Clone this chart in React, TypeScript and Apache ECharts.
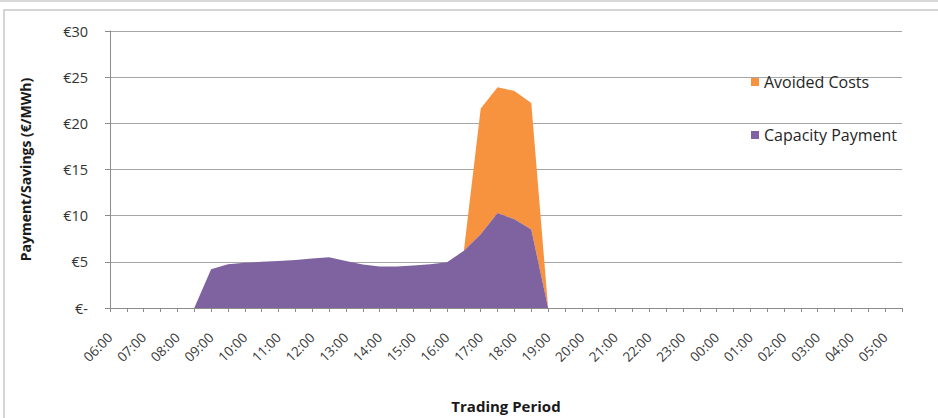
import React, { useEffect, useRef } from "react";
import * as echarts from "echarts";

const categories = [
  "06:00", "06:30", "07:00", "07:30", "08:00", "08:30", "09:00", "09:30",
  "10:00", "10:30", "11:00", "11:30", "12:00", "12:30", "13:00", "13:30",
  "14:00", "14:30", "15:00", "15:30", "16:00", "16:30", "17:00", "17:30",
  "18:00", "18:30", "19:00", "19:30", "20:00", "20:30", "21:00", "21:30",
  "22:00", "22:30", "23:00", "23:30", "00:00", "00:30", "01:00", "01:30",
  "02:00", "02:30", "03:00", "03:30", "04:00", "04:30", "05:00", "05:30",
];

const capacityPayment = [
  0, 0, 0, 0, 0, 0, 4.2, 4.75,
  4.9, 5.0, 5.1, 5.2, 5.35, 5.5, 5.1, 4.7,
  4.5, 4.5, 4.6, 4.75, 4.95, 6.2, 8.0, 10.3,
  9.6, 8.5, 0, 0, 0, 0, 0, 0,
  0, 0, 0, 0, 0, 0, 0, 0,
  0, 0, 0, 0, 0, 0, 0, 0,
];

const avoidedCosts = [
  0, 0, 0, 0, 0, 0, 0, 0,
  0, 0, 0, 0, 0, 0, 0, 0,
  0, 0, 0, 0, 0, 0, 13.6, 13.6,
  13.9, 13.7, 0, 0, 0, 0, 0, 0,
  0, 0, 0, 0, 0, 0, 0, 0,
  0, 0, 0, 0, 0, 0, 0, 0,
];

const yTicks = [0, 5, 10, 15, 20, 25, 30];

const FONT = "'Open Sans', 'Noto Sans', sans-serif";

export default function App() {
  const ref = useRef<HTMLDivElement>(null);

  useEffect(() => {
    if (!ref.current) return;
    const chart = echarts.init(ref.current, null, { renderer: "svg" });
    chart.setOption({
      animation: false,
      backgroundColor: "#ffffff",
      textStyle: { fontFamily: FONT },
      graphic: [
        {
          type: "rect",
          shape: { x: 4, y: 10, width: 960, height: 430 },
          style: { fill: "none", stroke: "#c8c8c8", lineWidth: 1.5 },
          silent: true,
        },
        {
          type: "line",
          shape: { x1: 0, y1: 1, x2: 938, y2: 1 },
          style: { stroke: "#d8d8d8", lineWidth: 2 },
          silent: true,
        },
      ],
      legend: {
        orient: "vertical",
        left: 746,
        top: 68,
        itemGap: 35,
        itemWidth: 8,
        itemHeight: 8,
        icon: "rect",
        data: ["Avoided Costs", "Capacity Payment"],
        textStyle: { fontFamily: FONT, fontSize: 16, color: "#262626", lineHeight: 18 },
      },
      grid: { left: 110, right: 36, top: 31, bottom: 103, containLabel: false },
      xAxis: {
        type: "category",
        data: categories,
        boundaryGap: false,
        name: "Trading Period",
        nameLocation: "middle",
        nameGap: 90,
        nameTextStyle: { fontFamily: FONT, fontSize: 15, fontWeight: "bold", color: "#1a1a1a" },
        axisLine: { lineStyle: { color: "#8c8c8c", width: 1 } },
        axisTick: { show: true, interval: 0, length: 4, lineStyle: { color: "#8c8c8c" } },
        axisLabel: {
          interval: 1,
          rotate: 45,
          margin: 27,
          fontFamily: FONT,
          fontSize: 13.5,
          color: "#3a3a3a",
        },
        splitLine: { show: false },
      },
      yAxis: {
        type: "value",
        min: 0,
        max: 30,
        interval: 5,
        name: "Payment/Savings (€/MWh)",
        nameLocation: "middle",
        nameGap: 78,
        nameTextStyle: { fontFamily: FONT, fontSize: 14, fontWeight: "bold", color: "#1a1a1a" },
        axisLine: { show: true, lineStyle: { color: "#8c8c8c", width: 1 } },
        axisTick: { show: true, length: 5, lineStyle: { color: "#8c8c8c" } },
        axisLabel: {
          margin: 22,
          fontFamily: FONT,
          fontSize: 14.5,
          color: "#333",
          formatter: (v: number) => (yTicks.includes(v) ? (v === 0 ? "€-" : "€" + v) : ""),
        },
        splitLine: { show: true, lineStyle: { color: "#a6a6a6", width: 1 } },
      },
      series: [
        {
          name: "Capacity Payment",
          type: "line",
          stack: "total",
          data: capacityPayment,
          symbol: "none",
          lineStyle: { width: 0 },
          areaStyle: { color: "#7f63a1", opacity: 1 },
          itemStyle: { color: "#7f63a1" },
          z: 3,
        },
        {
          name: "Avoided Costs",
          type: "line",
          stack: "total",
          data: avoidedCosts,
          symbol: "none",
          lineStyle: { width: 0 },
          areaStyle: { color: "#f7923f", opacity: 1 },
          itemStyle: { color: "#f7923f" },
          z: 2,
        },
      ],
    });
    return () => chart.dispose();
  }, []);

  return <div ref={ref} style={{ width: 938, height: 418, position: "absolute", left: 0, top: 0 }} />;
}
